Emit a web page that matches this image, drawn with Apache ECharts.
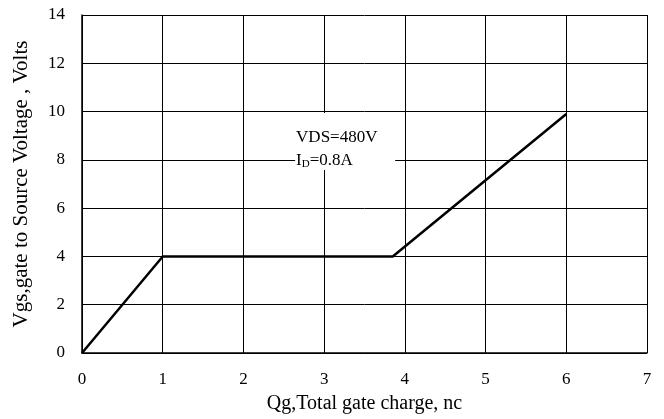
<!DOCTYPE html>
<html>
<head>
<meta charset="utf-8">
<script src="https://cdn.jsdelivr.net/npm/echarts@6/dist/echarts.min.js"></script>
<style>
  html, body { margin: 0; padding: 0; background: #fff; }
  #chart { width: 664px; height: 419px; }
</style>
</head>
<body>
<div id="chart"></div>
<script>
  // 栅极电荷曲线数据
  const gateCharge = [0, 1, 3.85, 6]
  const gateVoltage = [0, 4, 4, 9.9]
  // 标注框范围 (数据坐标)
  const noteBoxX = [2.64, 3.88]
  const noteBoxY = [9.94, 7.58]
  const noteVds = 'VDS=480V'
  const noteId = ['I', 'D', '=0.8A']

  const font = 'Liberation Serif'
  let chart = echarts.init(document.getElementById('chart'))

  let option = {
    animation: false,
    backgroundColor: '#fff',
    grid: { left: 82, right: 17, top: 15, bottom: 66 },
    xAxis: {
      type: 'value',
      min: 0,
      max: 7,
      interval: 1,
      name: 'Qg,Total gate charge, nc',
      nameLocation: 'middle',
      nameGap: 41,
      nameTextStyle: { fontFamily: font, fontSize: 20, color: '#000' },
      axisLine: { lineStyle: { color: '#000', width: 1.5 } },
      axisTick: { show: false },
      axisLabel: { fontFamily: font, fontSize: 17, color: '#000', margin: 18 },
      splitLine: { show: true, lineStyle: { color: '#000', width: 1 } }
    },
    yAxis: {
      type: 'value',
      min: 0,
      max: 14,
      interval: 2,
      name: 'Vgs,gate to Source Voltage , Volts',
      nameLocation: 'middle',
      nameGap: 50,
      nameTextStyle: { fontFamily: font, fontSize: 21, color: '#000' },
      axisLine: { show: true, lineStyle: { color: '#000', width: 1.5 } },
      axisTick: { show: false },
      axisLabel: { fontFamily: font, fontSize: 17, color: '#000', margin: 17 },
      splitLine: { show: true, lineStyle: { color: '#000', width: 1 } }
    },
    series: [{
      type: 'line',
      data: gateCharge.map((x, i) => [x, gateVoltage[i]]),
      symbol: 'none',
      lineStyle: { color: '#000', width: 2.5 },
      markArea: {
        silent: true,
        itemStyle: { color: '#fff' },
        label: {
          position: 'insideTopLeft',
          distance: 0,
          padding: [13, 0, 0, 1],
          formatter: '{a|' + noteVds + '}\n{a|' + noteId[0] + '}{s|' + noteId[1] + '}{a|' + noteId[2] + '}',
          rich: {
            a: { fontFamily: font, fontSize: 17, color: '#000', lineHeight: 23 },
            s: { fontFamily: font, fontSize: 11, color: '#000', lineHeight: 23, padding: [7, 0, 0, 0] }
          }
        },
        data: [[
          { coord: [noteBoxX[0], noteBoxY[0]] },
          { coord: [noteBoxX[1], noteBoxY[1]] }
        ]]
      }
    }]
  }
  chart.setOption(option)
</script>
</body>
</html>
